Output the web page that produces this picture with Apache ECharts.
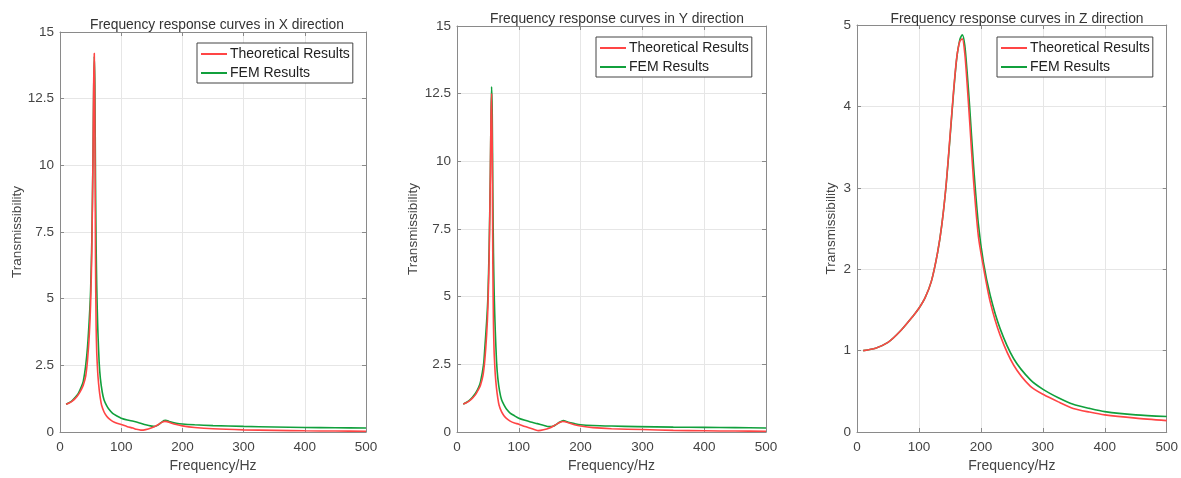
<!DOCTYPE html>
<html><head><meta charset="utf-8">
<script src="https://cdn.jsdelivr.net/npm/echarts@6/dist/echarts.min.js"></script>
<style>html,body{margin:0;padding:0;background:#fff}#c{width:1181px;height:478px}</style>
</head><body><div id="c"></div>
<script>
// ---- Data ----
const titles = ['Frequency response curves in X direction','Frequency response curves in Y direction','Frequency response curves in Z direction'];
const seriesNames = ['Theoretical Results','FEM Results'];
const xTicks = [0,100,200,300,400,500];

const xFreqTheo = [10,15,20,25,30,35,38,42,45,48,50,52,54,55,56,57,58,59,60,61,62,64,66,68,72,76,80,86,93,100,110,119,125,132,140,150,156,162,167,171,175,180,190,200,220,250,300,350,400,450,500];
const xTheo     = [1.04,1.09,1.16,1.26,1.4,1.6,1.75,2.1,2.7,3.7,4.8,6.8,10.5,13,14.2,11.5,6.5,4.0,3.0,2.5,2.1,1.6,1.25,1.0,0.75,0.6,0.5,0.4,0.33,0.28,0.2,0.15,0.1,0.07,0.09,0.16,0.22,0.3,0.37,0.4,0.39,0.35,0.28,0.23,0.17,0.12,0.08,0.06,0.045,0.035,0.03];
const xFreqFem  = [10,15,20,25,30,35,38,42,45,48,50,52,54,55,56,57,58,59,60,61,62,64,66,69,72,76,80,86,93,100,110,120,130,140,150,155,160,165,170,173,176,180,190,200,220,250,300,350,400,450,500];
const xFem      = [1.04,1.1,1.18,1.3,1.45,1.7,1.9,2.5,3.2,4.3,5.3,7.2,10.5,12.8,14.1,13.0,9.5,7.0,5.5,4.5,3.7,2.6,2.0,1.5,1.2,1.0,0.85,0.7,0.6,0.52,0.45,0.4,0.34,0.27,0.22,0.21,0.26,0.35,0.43,0.44,0.42,0.38,0.33,0.3,0.27,0.24,0.21,0.19,0.17,0.16,0.15];

const yFreqTheo = [10,15,20,25,30,35,38,42,45,48,50,52,54,55,56,57,58,59,60,61,62,64,66,68,72,76,80,86,93,100,110,119,125,132,140,150,156,162,167,171,175,180,190,200,220,250,300,350,400,450,500];
const yTheo     = [1.03,1.08,1.15,1.25,1.38,1.58,1.73,2.08,2.65,3.6,4.6,6.4,9.6,11.6,12.5,10.4,6.2,4.0,3.0,2.5,2.1,1.6,1.25,1.0,0.75,0.6,0.5,0.4,0.33,0.29,0.2,0.14,0.09,0.05,0.08,0.15,0.22,0.3,0.36,0.39,0.38,0.34,0.27,0.22,0.16,0.12,0.09,0.06,0.045,0.035,0.03];
const yFreqFem  = [10,15,20,25,30,35,38,43,45,48,50,52,54,55,56,57,58,59,60,61,62,64,66,69,72,76,80,86,93,100,110,119,130,140,149,155,160,165,170,172,176,180,190,200,220,250,292,350,400,450,500];
const yFem      = [1.03,1.09,1.17,1.28,1.43,1.65,1.85,2.5,3.1,4.1,5.0,6.8,9.6,11.7,12.75,11.8,8.8,6.6,5.3,4.4,3.7,2.6,2.0,1.5,1.2,1.0,0.85,0.7,0.6,0.51,0.43,0.37,0.31,0.25,0.2,0.21,0.27,0.35,0.41,0.42,0.4,0.36,0.31,0.27,0.24,0.22,0.2,0.18,0.17,0.16,0.15];

const zFreq = [10,30,50,70,90,100,110,120,130,137,144,150,156,161,166,170,174,178,182,188,196,204,215,231,253,280,301,325,349,375,400,450,500];
const zTheo = [1.0,1.03,1.1,1.24,1.42,1.52,1.65,1.85,2.2,2.55,3.05,3.62,4.2,4.6,4.8,4.83,4.65,4.25,3.8,3.1,2.4,2.03,1.6,1.19,0.82,0.56,0.46,0.37,0.29,0.245,0.21,0.17,0.14];
const zFem  = [1.0,1.03,1.1,1.24,1.42,1.52,1.65,1.85,2.2,2.55,3.04,3.6,4.18,4.59,4.82,4.88,4.75,4.4,3.98,3.29,2.55,2.09,1.68,1.27,0.9,0.64,0.52,0.42,0.34,0.29,0.25,0.21,0.19];

const yMax = [15,15,5];
const yStep = [2.5,2.5,1];
// -----------------------------------------

const pair = (f, v) => f.map((x, i) => [x, v[i]]);
const panels = [
  [pair(xFreqTheo, xTheo), pair(xFreqFem, xFem)],
  [pair(yFreqTheo, yTheo), pair(yFreqFem, yFem)],
  [pair(zFreq, zTheo), pair(zFreq, zFem)]
];

const grids = [
  {left: 60, top: 32, width: 306, height: 402},
  {left: 457, top: 26, width: 309, height: 408},
  {left: 857, top: 25, width: 310, height: 409}
];
const titlePos = [{x:212,y:13},{x:612,y:7},{x:1012,y:7}];
const yNameGap = [35, 37, 19];
const legendPos = [{l:197,t:43},{l:596,t:37},{l:997,t:37}];
const colors = ['#ff4545', '#11a03c'];
const FONT = 'Liberation Sans, Arial, sans-serif';
const axisLineColor = '#8a8a8a';

const option = {
  animation: false,
  backgroundColor: '#fff',
  title: titles.map((t, i) => ({
    text: t, left: titlePos[i].x, top: titlePos[i].y, textAlign: 'center',
    textStyle: {fontSize: 13.8, fontWeight: 'normal', color: '#333', fontFamily: FONT}
  })),
  grid: grids.map(g => Object.assign({containLabel: false}, g)),
  legend: legendPos.map((p, i) => ({
    left: p.l, top: p.t, orient: 'vertical',
    data: seriesNames.map(n => ({name: n, icon: 'rect'})),
    itemWidth: 26, itemHeight: 2, itemGap: 5, padding: [4, 3, 3, 4],
    borderColor: '#444', borderWidth: 1, backgroundColor: '#fff',
    textStyle: {fontSize: 14, color: '#222', fontFamily: FONT, padding: [0, 0, 0, -2]},
    selectedMode: false
  })),
  xAxis: [],
  yAxis: [],
  series: []
};

for (let i = 0; i < 3; i++) {
  option.xAxis.push({
    type: 'value', gridIndex: i, min: 0, max: 500, interval: 100, position: 'bottom',
    name: 'Frequency/Hz', nameLocation: 'middle', nameGap: 27,
    nameTextStyle: {fontSize: 14, color: '#444', fontFamily: FONT},
    axisLine: {show: true, onZero: false, lineStyle: {color: axisLineColor, width: 1}},
    axisTick: {show: true, inside: true, length: 4, lineStyle: {color: axisLineColor}},
    axisLabel: {fontSize: 13.5, color: '#444', margin: 8, fontFamily: FONT},
    splitLine: {show: true, lineStyle: {color: '#e6e6e6', width: 1}}
  });
  option.xAxis.push({
    type: 'value', gridIndex: i, min: 0, max: 500, interval: 100, position: 'top',
    axisLine: {show: true, onZero: false, lineStyle: {color: axisLineColor, width: 1}},
    axisTick: {show: true, inside: true, length: 4, lineStyle: {color: axisLineColor}},
    axisLabel: {show: false}, splitLine: {show: false}
  });
  option.yAxis.push({
    type: 'value', gridIndex: i, min: 0, max: yMax[i], interval: yStep[i], position: 'left',
    name: 'Transmissibility', nameLocation: 'middle', nameGap: yNameGap[i], nameRotate: 90,
    nameTextStyle: {fontSize: 13.5, color: '#444', fontFamily: FONT},
    axisLine: {show: true, onZero: false, lineStyle: {color: axisLineColor, width: 1}},
    axisTick: {show: true, inside: true, length: 4, lineStyle: {color: axisLineColor}},
    axisLabel: {fontSize: 13.5, color: '#444', margin: 6, fontFamily: FONT},
    splitLine: {show: true, lineStyle: {color: '#e6e6e6', width: 1}}
  });
  option.yAxis.push({
    type: 'value', gridIndex: i, min: 0, max: yMax[i], interval: yStep[i], position: 'right',
    axisLine: {show: true, onZero: false, lineStyle: {color: axisLineColor, width: 1}},
    axisTick: {show: true, inside: true, length: 4, lineStyle: {color: axisLineColor}},
    axisLabel: {show: false}, splitLine: {show: false}
  });
  for (let s = 0; s < 2; s++) {
    option.series.push({
      type: 'line', name: seriesNames[s], xAxisIndex: 2 * i, yAxisIndex: 2 * i,
      data: panels[i][s], symbol: 'none', smooth: 0.25, z: s === 0 ? 3 : 2,
      lineStyle: {color: colors[s], width: 1.6}, itemStyle: {color: colors[s]}
    });
  }
}

const chart = echarts.init(document.getElementById('c'), null, {renderer: 'canvas'});
chart.setOption(option);
</script></body></html>
